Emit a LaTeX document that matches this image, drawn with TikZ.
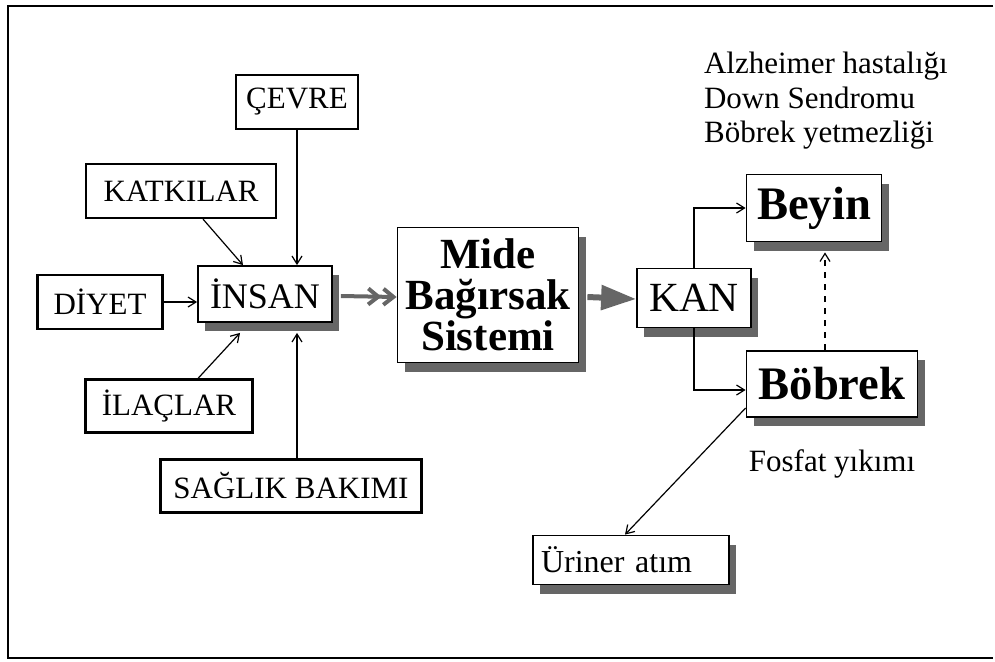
\documentclass[tikz,border=0pt]{standalone}
\usepackage{fontspec}
\setmainfont{Liberation Serif}
\usetikzlibrary{arrows.meta,shadows,calc}

\tikzset{
  feed/.style={-{Straight Barb[length=4pt,width=5pt]},line width=.6pt},
  organ/.style={draw,line width=.9pt,fill=white,inner sep=0pt,
    drop shadow={shadow xshift=3.5pt,shadow yshift=-4.5pt,fill=black!60,opacity=1}}
}

\begin{document}
\begin{tikzpicture}[x=.5pt,y=-.5pt]
        \useasboundingbox (0,0) rectangle (995,661);
        \draw[line width=1pt] (993,6) -- (8,6) -- (8,658) -- (993,658);

        % sources
        \begin{scope}[every node/.style={draw,line width=1.1pt,inner sep=0pt,
            font=\fontsize{15.5}{17}\selectfont}]
          \node[minimum width=61pt,minimum height=27pt]    (cevre)  at (297,102) {ÇEVRE};
          \node[minimum width=95pt,minimum height=27pt]    (katki)  at (181,191) {KATKILAR};
          \node[minimum width=62.5pt,minimum height=27pt]  (diyet)  at (100,302) {DİYET};
          \node[minimum width=83.5pt,minimum height=26.5pt] (ilac)  at (169,406) {İLAÇLAR};
          \node[minimum width=130.5pt,minimum height=26.5pt] (saglik) at (291,486) {SAĞLIK BAKIMI};
        \end{scope}

        % boxes with shadow
        \begin{scope}[every node/.style={organ}]
          \node[minimum width=67pt,minimum height=28pt,font=\fontsize{18}{20}\selectfont]
            (insan) at (265,294) {İNSAN};
          \node[minimum width=90.5pt,minimum height=67.5pt,align=center,
            font=\bfseries\fontsize{21.5}{20.5}\selectfont]
            (mide) at (488,295) {Mide\\Bağırsak\\Sistemi};
          \node[minimum width=57pt,minimum height=29.5pt,font=\fontsize{20.75}{22}\selectfont]
            (kan) at (694,298) {KAN};
          \node[minimum width=67.5pt,minimum height=33.5pt,font=\bfseries\fontsize{23.3}{25}\selectfont]
            (beyin) at (814,208) {Beyin};
          \node[minimum width=85.5pt,minimum height=33pt,font=\bfseries\fontsize{23.3}{25}\selectfont]
            (bobrek) at (832,384) {Böbrek};
          \node[minimum height=24.5pt,text width=90pt,inner xsep=4pt,align=left,
            font=\fontsize{16}{18}\selectfont]
            (uriner) at (631,560) {Üriner atım};
        \end{scope}

        % plain texts
        \begin{scope}[every node/.style={font=\fontsize{15.5}{17.25}\selectfont}]
          \node[align=left,anchor=west] (hastalik) at (697,101)
            {Alzheimer hastalığı\\Down Sendromu\\Böbrek yetmezliği};
          \node (fosfat) at (832,464) {Fosfat yıkımı};
        \end{scope}

        % arrows into the human
        \begin{scope}[every path/.style={feed}]
          \path (cevre.south) edge (cevre.south |- insan.north);
          \path ([xshift=11pt]katki.south) edge ([xshift=-11pt]insan.north);
          \path (diyet.east) edge (diyet.east -| insan.west);
          \path ([xshift=14.5pt]ilac.north) edge ($(insan.south)+(-25,10)$);
          \path (saglik.north -| cevre) edge ($(insan.south -| cevre)+(0,10)$);
        \end{scope}

        \draw[black!60,line width=2pt,
          -{Straight Barb[length=5pt,width=8pt]Straight Barb[length=5pt,width=8pt]}]
          ($(insan.east)+(8,2)$) -- ($(mide.west)+(0,2)$);
        \draw[black!60,line width=3pt,-{Triangle[length=17.5pt,width=12pt]}]
          ($(mide.east)+(8,2)$) -- ($(kan.west)+(0,1)$);

        % blood to organs
        \begin{scope}[every path/.style={feed}]
          \path (kan.north) edge[to path={|- (\tikztotarget)}] (beyin.west);
          \path (kan.south) edge[to path={|- (\tikztotarget)}] ([yshift=-3pt]bobrek.west);
          \path[dashed] ($(bobrek.north -| beyin.south)+(11,0)$) edge ($(beyin.south)+(11,10)$);
          \path ([yshift=-12pt]bobrek.west) edge ([xshift=-3pt]uriner.north);
        \end{scope}

      \end{tikzpicture}
\end{document}
